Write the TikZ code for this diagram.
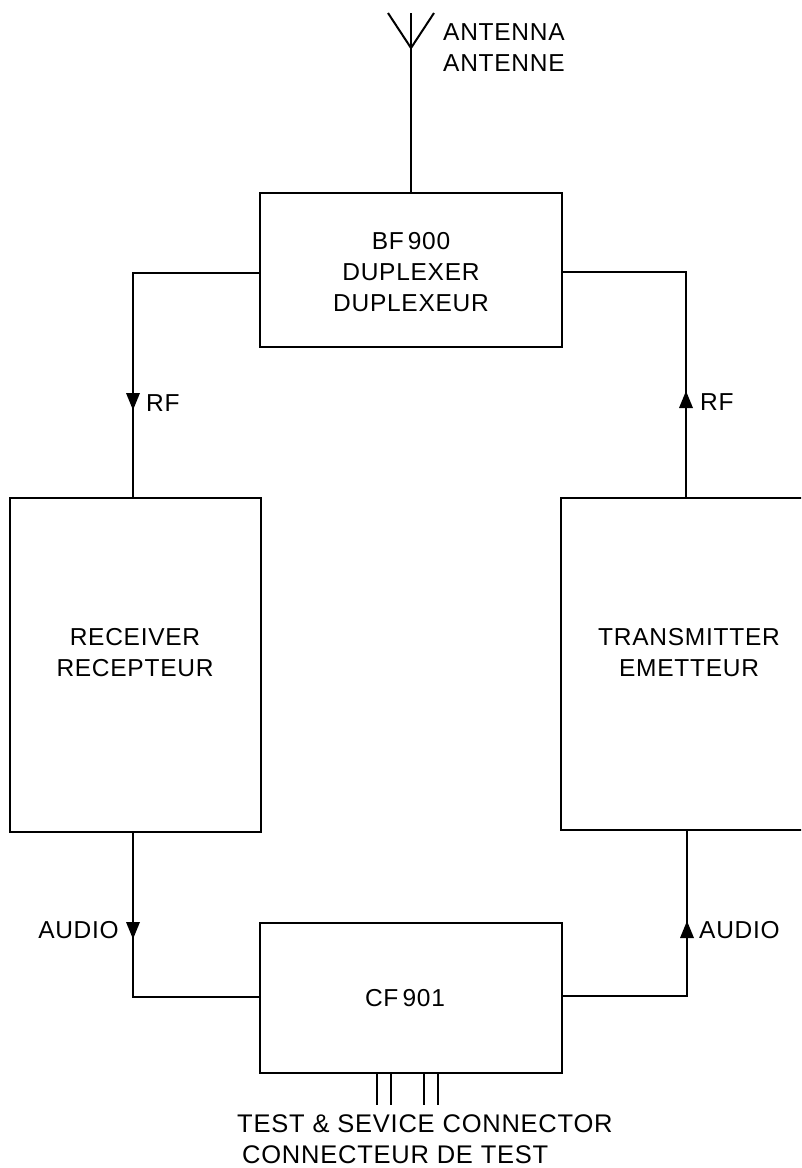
\documentclass[tikz,border=0pt]{standalone}
\usepackage{fontspec}
\setmainfont{Liberation Sans}[LetterSpace=3]
\usetikzlibrary{arrows.meta,decorations.markings}
\begin{document}
\begin{tikzpicture}[x=1pt,y=-1pt,
  wire/.style={line width=2pt},
  blk/.style={draw, line width=2pt, inner sep=0pt},
  lbl/.style={font=\fontsize{24.5}{31}\selectfont, align=center, inner sep=0pt},
  blbl/.style={font=\fontsize{25.5}{32}\selectfont, align=left, inner sep=0pt, anchor=west},
  arrowat/.style={postaction={decorate}, decoration={markings, mark=at position #1 with {\fill (1pt,0pt) -- (-16pt,7pt) -- (-16pt,-7pt) -- cycle;}}}
]
\useasboundingbox (0,0) rectangle (801,1168);
\fill[white] (0,0) rectangle (801,1168);
\clip (0,0) rectangle (801,1168);

% blocks
\node[blk, minimum width=302pt, minimum height=154pt] (dup) at (411,270) {};
\node[blk, minimum width=251pt, minimum height=334pt] (rx) at (135.5,665) {};
\node[blk, minimum width=254pt, minimum height=332pt] (tx) at (688,664) {};
\node[blk, minimum width=302pt, minimum height=150pt] (cf) at (411,998) {};

% block labels
\node[lbl] (dupt) at (411,272) {BF\,900\\DUPLEXER\\DUPLEXEUR};
\node[lbl] (rxt) at (135,653) {RECEIVER\\RECEPTEUR};
\node[lbl] (txt) at (689,653) {TRANSMITTER\\EMETTEUR};
\node[lbl] (cft) at (405,998) {CF\,901};

% antenna
\coordinate (antTop) at (411,13);
\coordinate (antJ) at (411,48);
\coordinate (antL) at (388,13);
\coordinate (antR) at (434,13);
\draw[wire] (dup.north) -- (antTop);
\draw[wire] (antL) -- (antJ) -- (antR);
\node[lbl, align=left, anchor=west] (antt) at (443,48) {ANTENNA\\ANTENNE};

% RF connections
\coordinate (cL) at (133,273);
\coordinate (cR) at (686,272);
\draw[wire, arrowat=262pt] (dup.west |- cL) -- (cL) -- (cL |- rx.north);
\draw[wire, arrowat=105pt] (cR |- tx.north) -- (cR) -- (cR -| dup.east);
\node[lbl, anchor=west] (rfL) at (146,403) {RF};
\node[lbl, anchor=west] (rfR) at (700,402) {RF};

% audio connections
\coordinate (aL) at (133,997);
\coordinate (aR) at (687,996);
\draw[wire, arrowat=105pt] (aL |- rx.south) -- (aL) -- (aL -| cf.west);
\draw[wire, arrowat=198pt] (aR -| cf.east) -- (aR) -- (aR |- tx.south);
\node[lbl, anchor=east] (audL) at (119,930) {AUDIO};
\node[lbl, anchor=west] (audR) at (699,930) {AUDIO};

% test connector pins
\coordinate (p1) at (377,1105);
\coordinate (p2) at (391,1105);
\coordinate (p3) at (424,1105);
\coordinate (p4) at (438,1105);
\foreach \p in {p1,p2,p3,p4} \draw[wire] (\p |- cf.south) -- (\p);
\node[blbl] (tst1) at (237,1124) {TEST \& SEVICE CONNECTOR};
\node[blbl] (tst2) at (242,1155) {CONNECTEUR DE TEST};
\end{tikzpicture}
\end{document}
